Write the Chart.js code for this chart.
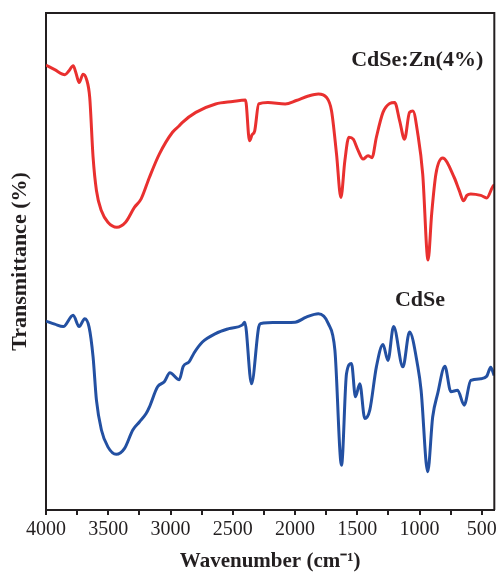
<!DOCTYPE html>
<html><head><meta charset="utf-8">
<script src="https://cdn.jsdelivr.net/npm/chart.js@4"></script>
<style>html,body{margin:0;padding:0;background:#fff}#wrap{width:502px;height:572px}</style>
</head><body><div id="wrap"><canvas id="c"></canvas></div>
<script>
// CdSe:Zn(4%) spectrum (red)
const wnZn = [4000,3930,3848,3815,3782,3760,3734,3702,3675,3649,3622,3595,3555,3503,3431,3361,3290,3236,3170,3090,2984,2930,2904,2797,2638,2500,2398,2366,2345,2324,2292,2218,2079,1990,1893,1813,1747,1707,1667,1632,1600,1568,1533,1493,1454,1414,1382,1347,1294,1240,1200,1160,1121,1081,1054,1014,975,932,903,869,815,722,682,647,620,589,509,461,416,400];
const tZn  = [89.5,88.6,87.6,88.4,89.4,88.0,86.0,87.7,86.7,83.0,71.0,64.3,60.2,57.9,56.9,57.9,60.9,62.6,66.9,71.6,76.0,77.3,78.0,80.0,81.7,82.2,82.5,74.3,75.5,76.3,81.7,82.0,81.7,82.4,83.3,83.7,83.0,80.3,71.6,62.9,70.3,75.0,74.6,72.3,70.6,71.3,70.9,75.0,80.0,81.8,82.0,78.3,74.6,80.0,80.3,75.6,67.6,50.3,59.6,67.6,70.8,66.9,64.3,62.2,63.3,63.6,63.3,62.8,64.9,65.5];
// CdSe spectrum (blue)
const wnCdSe = [4000,3930,3862,3782,3734,3689,3654,3622,3595,3555,3503,3436,3369,3303,3250,3196,3170,3104,3050,3005,2930,2898,2851,2811,2744,2638,2531,2425,2404,2350,2292,2278,2218,1999,1910,1813,1733,1680,1627,1587,1547,1515,1480,1440,1400,1347,1294,1254,1209,1134,1081,1014,988,935,895,855,797,749,695,642,589,509,461,429,402];
const tCdSe  = [38.0,37.4,36.9,39.2,36.9,38.5,36.8,30.8,22.1,16.1,12.7,11.2,12.4,16.1,17.7,19.4,20.7,24.8,25.8,27.6,26.2,28.9,29.8,31.6,33.8,35.5,36.5,37.2,37.8,25.4,36.8,37.5,37.7,37.8,38.8,39.5,37.5,32.1,9.0,27.4,29.5,22.8,25.4,18.4,20.1,28.8,33.3,30.1,36.9,28.8,35.8,28.8,24.1,7.7,18.7,23.4,28.9,23.8,24.1,21.1,26.1,26.4,26.9,28.7,27.1];
const majorTicks = [4000,3500,3000,2500,2000,1500,1000,500];
const minorTicks = [3750,3250,2750,2250,1750,1250,750];
const seriesLabels = ['CdSe:Zn(4%)','CdSe'];
const labelAnchors = [[1549, 90.4],[1198, 42.2]];

const ink = '#231f20';
const serif = "'Liberation Serif','Times New Roman',serif";

const frame = {
  id: 'frame',
  afterDraw(chart) {
    const {ctx, chartArea: a, scales: {x, y}} = chart;
    ctx.save();
    ctx.strokeStyle = ink; ctx.lineWidth = 2;
    ctx.beginPath();
    ctx.moveTo(a.left, a.top); ctx.lineTo(a.right, a.top); ctx.lineTo(a.right, a.bottom);
    ctx.stroke();
    ctx.fillStyle = ink;
    ctx.font = "bold 22px " + serif;
    ctx.textAlign = 'left'; ctx.textBaseline = 'middle';
    seriesLabels.forEach((t, i) => {
      ctx.fillText(t, x.getPixelForValue(labelAnchors[i][0]), y.getPixelForValue(labelAnchors[i][1]));
    });
    ctx.restore();
  }
};

new Chart(document.getElementById('c'), {
  type: 'line',
  data: {
    datasets: [
      {label: seriesLabels[0], data: wnZn.map((v,i)=>({x:v,y:tZn[i]})), borderColor:'#e9302f', borderWidth:3, pointRadius:0, cubicInterpolationMode:'monotone', fill:false},
      {label: seriesLabels[1], data: wnCdSe.map((v,i)=>({x:v,y:tCdSe[i]})), borderColor:'#2350a2', borderWidth:3, pointRadius:0, cubicInterpolationMode:'monotone', fill:false}
    ]
  },
  options: {
    responsive: true, maintainAspectRatio: false, animation: false, devicePixelRatio: 1,
    layout: {padding: {left: 6, right: 5, top: 13, bottom: 0}},
    plugins: {legend: {display: false}, tooltip: {enabled: false}},
    scales: {
      x: {
        type: 'linear', reverse: true, min: 400, max: 4000,
        afterBuildTicks: s => { s.ticks = majorTicks.concat(minorTicks).sort((a,b)=>b-a).map(v=>({value:v})); },
        afterFit: s => { s.height = 62; },
        ticks: {autoSkip: false, maxRotation: 0, padding: 5, color: ink,
                font: {family: serif, size: 20, lineHeight: 1},
                callback: v => majorTicks.includes(v) ? String(v) : ''},
        grid: {display: true, drawOnChartArea: false, drawTicks: true, tickLength: 5, color: ink, lineWidth: 2},
        border: {display: true, color: ink, width: 2},
        title: {display: true, text: 'Wavenumber (cm\u207B\u00B9)', color: ink,
                font: {family: serif, size: 21, weight: 'bold', lineHeight: 1}, padding: {top: 0, bottom: 0}}
      },
      y: {
        min: 0, max: 100,
        afterFit: s => { s.width = 40; },
        ticks: {display: false},
        grid: {display: false, drawTicks: false},
        border: {display: true, color: ink, width: 2},
        title: {display: true, text: 'Transmittance (%)', color: ink,
                font: {family: serif, size: 22, weight: 'bold', lineHeight: 1}, padding: {top: 3, bottom: 0}}
      }
    }
  },
  plugins: [frame]
});
</script></body></html>
